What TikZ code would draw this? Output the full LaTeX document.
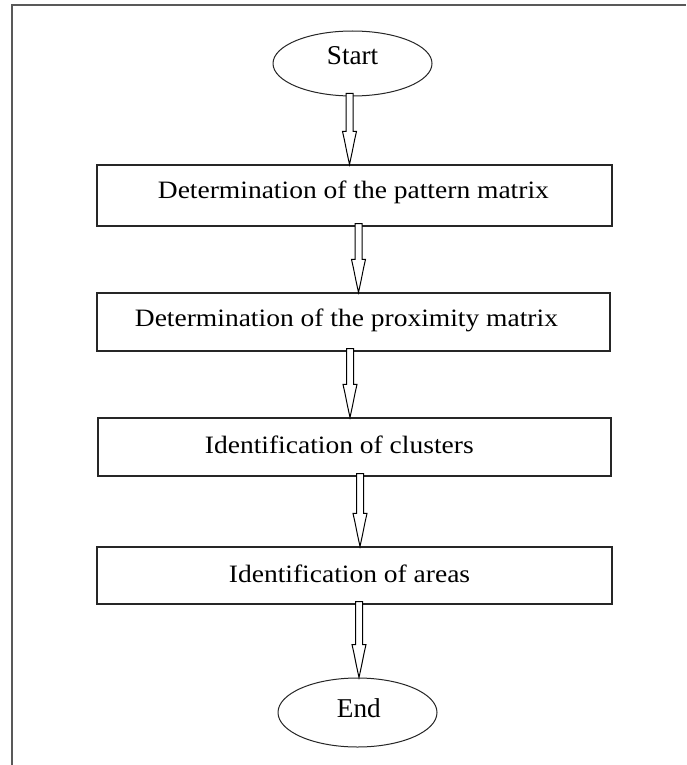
\documentclass[tikz,border=0pt]{standalone}
\usepackage{fontspec}
\setmainfont{Liberation Serif}
\newfontfamily\widefont{Liberation Serif}[FakeStretch=1.1]
\usetikzlibrary{shapes.geometric,calc}
\tikzset{
  box/.style={draw=black!85, line width=0.6pt, inner sep=0pt},
  oval/.style={ellipse, draw=black!85, line width=0.5pt, inner sep=0pt,
    minimum width=79.5pt},
  boxtext/.style={anchor=base west, inner sep=0pt,
    font=\widefont\fontsize{12.5}{15}\selectfont},
  ovaltext/.style={anchor=base west, inner sep=0pt,
    font=\fontsize{13.6}{16}\selectfont},
  barrow/.style={draw=black, line width=0.5pt, fill=white, line join=miter},
  frameline/.style={draw=black!65, line width=1pt}
}
\newcommand\blockarrow[3]{%
  \draw[barrow] let \p1=(#1.south), \p2=(#2.north), \p3=(#3,0) in
    (\x3-1.75pt,\y1+1.5pt) -- (\x3-1.75pt,\y2+16.5pt) -- (\x3-3.5pt,\y2+16.5pt)
    -- (\x3-2.5pt,\y2+12pt) -- (\x3-1.3pt,\y2+6pt) -- (\x3,\y2)
    -- (\x3+1.3pt,\y2+6pt) -- (\x3+2.5pt,\y2+12pt) -- (\x3+3.5pt,\y2+16.5pt)
    -- (\x3+1.75pt,\y2+16.5pt) -- (\x3+1.75pt,\y1+1.5pt) -- cycle;}
\begin{document}
\begin{tikzpicture}[x=0.5pt,y=-0.5pt]
\useasboundingbox (0,0) rectangle (686,765);
\fill[white] (0,0) rectangle (686,765);
\draw[frameline] (12,765) -- (12,5) -- (686,5);

\node[oval, minimum height=32.5pt] (start) at (352.5,63.5) {};
\node[box, minimum width=257.5pt, minimum height=30.5pt] (b1) at (354.5,195.5) {};
\node[box, minimum width=256.5pt, minimum height=29pt] (b2) at (353.5,322) {};
\node[box, minimum width=256.5pt, minimum height=29pt] (b3) at (354.5,447) {};
\node[box, minimum width=257.5pt, minimum height=28.5pt] (b4) at (354.5,575.5) {};
\node[oval, minimum height=34.5pt] (end) at (357.5,712.5) {};

\node[ovaltext] (tstart) at (326.5,65) {Start};
\node[boxtext] (t1) at (157.5,198.3) {Determination of the pattern matrix};
\node[boxtext] (t2) at (134.5,326.7) {Determination of the proximity matrix};
\node[boxtext] (t3) at (204.5,453) {Identification of clusters};
\node[boxtext] (t4) at (228.5,582) {Identification of areas};
\node[ovaltext] (tend) at (336.5,717) {End};

\blockarrow{start}{b1}{349.5}
\blockarrow{b1}{b2}{358.5}
\blockarrow{b2}{b3}{350}
\blockarrow{b3}{b4}{360}
\blockarrow{b4}{end}{359}
\end{tikzpicture}
\end{document}
